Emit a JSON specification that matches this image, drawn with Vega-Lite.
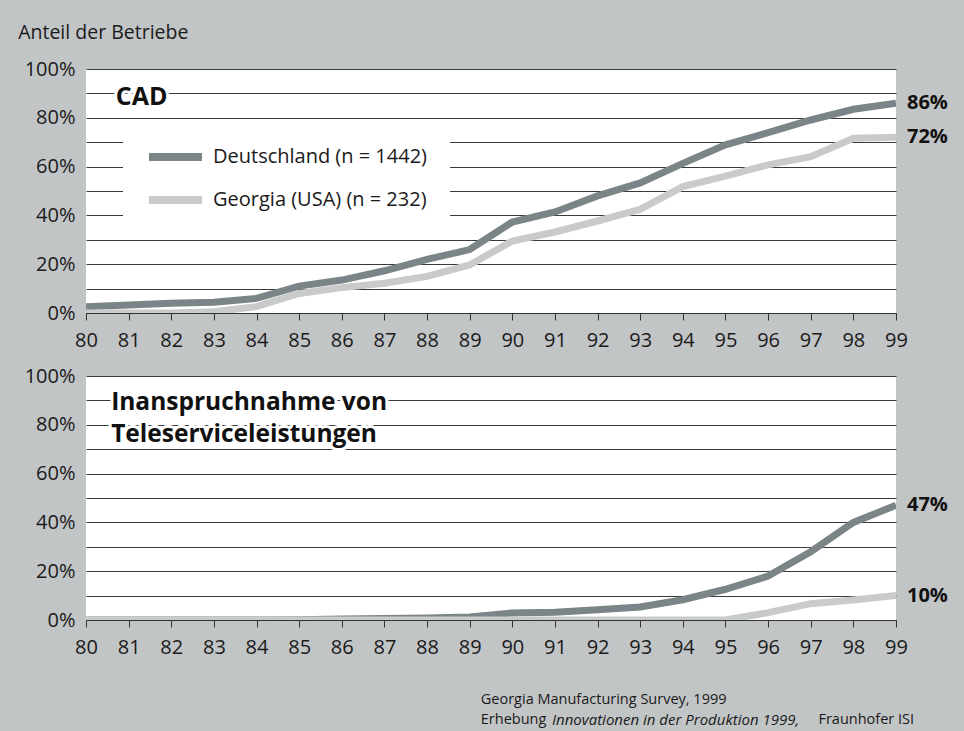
{
  "$schema": "https://vega.github.io/schema/vega-lite/v6.json",
  "background": "#c2c5c6",
  "padding": {"left": 18, "top": 22, "right": 24, "bottom": 12},
  "bounds": "flush",
  "spacing": 63,
  "title": {"text": "Anteil der Betriebe", "anchor": "start", "frame": "bounds", "dx": -6, "font": "Open Sans", "fontSize": 19.5, "fontWeight": "normal", "color": "#1a1a1a", "offset": 16},
  "config": {
    "view": {"fill": "white", "stroke": null},
    "font": "Open Sans",
    "axisX": {"tickCount": 20, "format": "d", "grid": false, "domainColor": "#333333", "tickColor": "#333333", "tickSize": 7, "labelPadding": 10, "labelFontSize": 20, "labelColor": "#1a1a1a", "labelFlush": false, "labelOverlap": false, "labelFont": "Open Sans"},
    "axisY": {"tickCount": 10, "format": ".0%", "labelExpr": "round(datum.value * 10) % 2 == 0 ? datum.label : ''", "grid": true, "gridColor": "#3a3a3a", "gridWidth": 1, "gridOpacity": 1, "domain": false, "ticks": false, "labelPadding": 11, "labelFontSize": 20, "labelColor": "#1a1a1a", "labelFont": "Open Sans", "labelOverlap": false}
  },
  "datasets": {
    "cad": [
      {"year": 80, "land": "Deutschland (n = 1442)", "anteil": 0.026},
      {"year": 81, "land": "Deutschland (n = 1442)", "anteil": 0.033},
      {"year": 82, "land": "Deutschland (n = 1442)", "anteil": 0.040},
      {"year": 83, "land": "Deutschland (n = 1442)", "anteil": 0.044},
      {"year": 84, "land": "Deutschland (n = 1442)", "anteil": 0.060},
      {"year": 85, "land": "Deutschland (n = 1442)", "anteil": 0.110},
      {"year": 86, "land": "Deutschland (n = 1442)", "anteil": 0.135},
      {"year": 87, "land": "Deutschland (n = 1442)", "anteil": 0.173},
      {"year": 88, "land": "Deutschland (n = 1442)", "anteil": 0.220},
      {"year": 89, "land": "Deutschland (n = 1442)", "anteil": 0.260},
      {"year": 90, "land": "Deutschland (n = 1442)", "anteil": 0.373},
      {"year": 91, "land": "Deutschland (n = 1442)", "anteil": 0.414},
      {"year": 92, "land": "Deutschland (n = 1442)", "anteil": 0.480},
      {"year": 93, "land": "Deutschland (n = 1442)", "anteil": 0.533},
      {"year": 94, "land": "Deutschland (n = 1442)", "anteil": 0.613},
      {"year": 95, "land": "Deutschland (n = 1442)", "anteil": 0.689},
      {"year": 96, "land": "Deutschland (n = 1442)", "anteil": 0.739},
      {"year": 97, "land": "Deutschland (n = 1442)", "anteil": 0.791},
      {"year": 98, "land": "Deutschland (n = 1442)", "anteil": 0.835},
      {"year": 99, "land": "Deutschland (n = 1442)", "anteil": 0.86},
      {"year": 80, "land": "Georgia (USA) (n = 232)", "anteil": 0.0},
      {"year": 81, "land": "Georgia (USA) (n = 232)", "anteil": 0.0},
      {"year": 82, "land": "Georgia (USA) (n = 232)", "anteil": 0.0},
      {"year": 83, "land": "Georgia (USA) (n = 232)", "anteil": 0.005},
      {"year": 84, "land": "Georgia (USA) (n = 232)", "anteil": 0.026},
      {"year": 85, "land": "Georgia (USA) (n = 232)", "anteil": 0.080},
      {"year": 86, "land": "Georgia (USA) (n = 232)", "anteil": 0.104},
      {"year": 87, "land": "Georgia (USA) (n = 232)", "anteil": 0.122},
      {"year": 88, "land": "Georgia (USA) (n = 232)", "anteil": 0.150},
      {"year": 89, "land": "Georgia (USA) (n = 232)", "anteil": 0.197},
      {"year": 90, "land": "Georgia (USA) (n = 232)", "anteil": 0.295},
      {"year": 91, "land": "Georgia (USA) (n = 232)", "anteil": 0.332},
      {"year": 92, "land": "Georgia (USA) (n = 232)", "anteil": 0.377},
      {"year": 93, "land": "Georgia (USA) (n = 232)", "anteil": 0.425},
      {"year": 94, "land": "Georgia (USA) (n = 232)", "anteil": 0.518},
      {"year": 95, "land": "Georgia (USA) (n = 232)", "anteil": 0.561},
      {"year": 96, "land": "Georgia (USA) (n = 232)", "anteil": 0.607},
      {"year": 97, "land": "Georgia (USA) (n = 232)", "anteil": 0.641},
      {"year": 98, "land": "Georgia (USA) (n = 232)", "anteil": 0.716},
      {"year": 99, "land": "Georgia (USA) (n = 232)", "anteil": 0.72}
    ],
    "tele": [
      {"year": 80, "land": "Deutschland (n = 1442)", "anteil": 0.0},
      {"year": 81, "land": "Deutschland (n = 1442)", "anteil": 0.0},
      {"year": 82, "land": "Deutschland (n = 1442)", "anteil": 0.0},
      {"year": 83, "land": "Deutschland (n = 1442)", "anteil": 0.0},
      {"year": 84, "land": "Deutschland (n = 1442)", "anteil": 0.0},
      {"year": 85, "land": "Deutschland (n = 1442)", "anteil": 0.001},
      {"year": 86, "land": "Deutschland (n = 1442)", "anteil": 0.004},
      {"year": 87, "land": "Deutschland (n = 1442)", "anteil": 0.006},
      {"year": 88, "land": "Deutschland (n = 1442)", "anteil": 0.008},
      {"year": 89, "land": "Deutschland (n = 1442)", "anteil": 0.012},
      {"year": 90, "land": "Deutschland (n = 1442)", "anteil": 0.029},
      {"year": 91, "land": "Deutschland (n = 1442)", "anteil": 0.032},
      {"year": 92, "land": "Deutschland (n = 1442)", "anteil": 0.042},
      {"year": 93, "land": "Deutschland (n = 1442)", "anteil": 0.053},
      {"year": 94, "land": "Deutschland (n = 1442)", "anteil": 0.083},
      {"year": 95, "land": "Deutschland (n = 1442)", "anteil": 0.126},
      {"year": 96, "land": "Deutschland (n = 1442)", "anteil": 0.180},
      {"year": 97, "land": "Deutschland (n = 1442)", "anteil": 0.280},
      {"year": 98, "land": "Deutschland (n = 1442)", "anteil": 0.400},
      {"year": 99, "land": "Deutschland (n = 1442)", "anteil": 0.47},
      {"year": 80, "land": "Georgia (USA) (n = 232)", "anteil": 0.0},
      {"year": 81, "land": "Georgia (USA) (n = 232)", "anteil": 0.0},
      {"year": 82, "land": "Georgia (USA) (n = 232)", "anteil": 0.0},
      {"year": 83, "land": "Georgia (USA) (n = 232)", "anteil": 0.0},
      {"year": 84, "land": "Georgia (USA) (n = 232)", "anteil": 0.0},
      {"year": 85, "land": "Georgia (USA) (n = 232)", "anteil": 0.0},
      {"year": 86, "land": "Georgia (USA) (n = 232)", "anteil": 0.0},
      {"year": 87, "land": "Georgia (USA) (n = 232)", "anteil": 0.0},
      {"year": 88, "land": "Georgia (USA) (n = 232)", "anteil": 0.0},
      {"year": 89, "land": "Georgia (USA) (n = 232)", "anteil": 0.0},
      {"year": 90, "land": "Georgia (USA) (n = 232)", "anteil": 0.0},
      {"year": 91, "land": "Georgia (USA) (n = 232)", "anteil": 0.0},
      {"year": 92, "land": "Georgia (USA) (n = 232)", "anteil": 0.0},
      {"year": 93, "land": "Georgia (USA) (n = 232)", "anteil": 0.0},
      {"year": 94, "land": "Georgia (USA) (n = 232)", "anteil": 0.0},
      {"year": 95, "land": "Georgia (USA) (n = 232)", "anteil": 0.0},
      {"year": 96, "land": "Georgia (USA) (n = 232)", "anteil": 0.030},
      {"year": 97, "land": "Georgia (USA) (n = 232)", "anteil": 0.067},
      {"year": 98, "land": "Georgia (USA) (n = 232)", "anteil": 0.082},
      {"year": 99, "land": "Georgia (USA) (n = 232)", "anteil": 0.10}
    ]
  },
  "resolve": {"scale": {"color": "independent"}, "legend": {"color": "independent"}},
  "vconcat": [
    {
      "width": 810,
      "height": 244,
      "layer": [
        {
          "data": {"name": "cad"},
          "mark": {"type": "line", "strokeWidth": 7, "clip": true},
          "encoding": {
            "x": {"field": "year", "type": "quantitative", "title": null, "scale": {"domain": [80, 99], "nice": false, "zero": false}},
            "y": {"field": "anteil", "type": "quantitative", "title": null, "scale": {"domain": [0, 1], "nice": false}},
            "color": {
              "field": "land", "type": "nominal",
              "scale": {"domain": ["Deutschland (n = 1442)", "Georgia (USA) (n = 232)"], "range": ["#7b8486", "#c9cbcb"]},
              "legend": {"orient": "none", "legendX": 37, "legendY": 55, "fillColor": "white", "strokeColor": null, "padding": 22, "title": null, "symbolType": "stroke", "symbolSize": 2809, "symbolStrokeWidth": 8, "labelFontSize": 20, "labelFont": "Open Sans", "labelColor": "#1a1a1a", "labelOffset": 7, "labelLimit": 400, "rowPadding": 21, "clipHeight": 22}
            }
          }
        },
        {
          "data": {"name": "cad"},
          "transform": [{"filter": "datum.year == 99"}],
          "mark": {"type": "text", "align": "left", "baseline": "middle", "dx": 11, "fontSize": 20, "fontWeight": "bold", "color": "#111111"},
          "encoding": {
            "x": {"field": "year", "type": "quantitative", "title": null},
            "y": {"field": "anteil", "type": "quantitative", "title": null},
            "text": {"field": "anteil", "type": "quantitative", "format": ".0%"}
          }
        },
        {
          "data": {"values": [{}]},
          "mark": {"type": "text", "text": "CAD", "align": "left", "baseline": "alphabetic", "fontSize": 25, "fontWeight": "bold", "fill": "white", "stroke": "white", "strokeWidth": 6, "strokeJoin": "round"},
          "encoding": {"x": {"datum": 80.7, "type": "quantitative"}, "y": {"datum": 0.854, "type": "quantitative"}}
        },
        {
          "data": {"values": [{}]},
          "mark": {"type": "text", "text": "CAD", "align": "left", "baseline": "alphabetic", "fontSize": 25, "fontWeight": "bold", "color": "#111111"},
          "encoding": {"x": {"datum": 80.7, "type": "quantitative"}, "y": {"datum": 0.854, "type": "quantitative"}}
        }
      ]
    },
    {
      "width": 810,
      "height": 244,
      "layer": [
        {
          "data": {"name": "tele"},
          "mark": {"type": "line", "strokeWidth": 7, "clip": true},
          "encoding": {
            "x": {"field": "year", "type": "quantitative", "title": null, "scale": {"domain": [80, 99], "nice": false, "zero": false}},
            "y": {"field": "anteil", "type": "quantitative", "title": null, "scale": {"domain": [0, 1], "nice": false}},
            "color": {
              "field": "land", "type": "nominal",
              "scale": {"domain": ["Deutschland (n = 1442)", "Georgia (USA) (n = 232)"], "range": ["#7b8486", "#c9cbcb"]},
              "legend": null
            }
          }
        },
        {
          "data": {"name": "tele"},
          "transform": [{"filter": "datum.year == 99"}],
          "mark": {"type": "text", "align": "left", "baseline": "middle", "dx": 11, "fontSize": 20, "fontWeight": "bold", "color": "#111111"},
          "encoding": {
            "x": {"field": "year", "type": "quantitative", "title": null},
            "y": {"field": "anteil", "type": "quantitative", "title": null},
            "text": {"field": "anteil", "type": "quantitative", "format": ".0%"}
          }
        },
        {
          "data": {"values": [{}]},
          "mark": {"type": "text", "text": ["Inanspruchnahme von", "Teleserviceleistungen"], "lineHeight": 32, "align": "left", "baseline": "alphabetic", "fontSize": 24.5, "fontWeight": "bold", "fill": "white", "stroke": "white", "strokeWidth": 6, "strokeJoin": "round"},
          "encoding": {"x": {"datum": 80.59, "type": "quantitative"}, "y": {"datum": 0.861, "type": "quantitative"}}
        },
        {
          "data": {"values": [{}]},
          "mark": {"type": "text", "text": ["Inanspruchnahme von", "Teleserviceleistungen"], "lineHeight": 32, "align": "left", "baseline": "alphabetic", "fontSize": 24.5, "fontWeight": "bold", "color": "#111111"},
          "encoding": {"x": {"datum": 80.59, "type": "quantitative"}, "y": {"datum": 0.861, "type": "quantitative"}}
        },
        {
          "data": {"values": [{}]},
          "mark": {"type": "text", "text": "Georgia Manufacturing Survey, 1999", "align": "left", "baseline": "middle", "fontSize": 14.5, "color": "#1a1a1a"},
          "encoding": {"x": {"datum": 89.26, "type": "quantitative"}, "y": {"datum": -0.328, "type": "quantitative"}}
        },
        {
          "data": {"values": [{}]},
          "mark": {"type": "text", "text": "Erhebung", "align": "left", "baseline": "middle", "fontSize": 14.5, "color": "#1a1a1a"},
          "encoding": {"x": {"datum": 89.26, "type": "quantitative"}, "y": {"datum": -0.41, "type": "quantitative"}}
        },
        {
          "data": {"values": [{}]},
          "mark": {"type": "text", "text": "Innovationen in der Produktion 1999,", "align": "left", "baseline": "middle", "fontSize": 15, "fontStyle": "italic", "color": "#1a1a1a"},
          "encoding": {"x": {"datum": 90.93, "type": "quantitative"}, "y": {"datum": -0.41, "type": "quantitative"}}
        },
        {
          "data": {"values": [{}]},
          "mark": {"type": "text", "text": "Fraunhofer ISI", "align": "left", "baseline": "middle", "fontSize": 14.5, "color": "#1a1a1a"},
          "encoding": {"x": {"datum": 97.18, "type": "quantitative"}, "y": {"datum": -0.41, "type": "quantitative"}}
        }
      ]
    }
  ]
}
